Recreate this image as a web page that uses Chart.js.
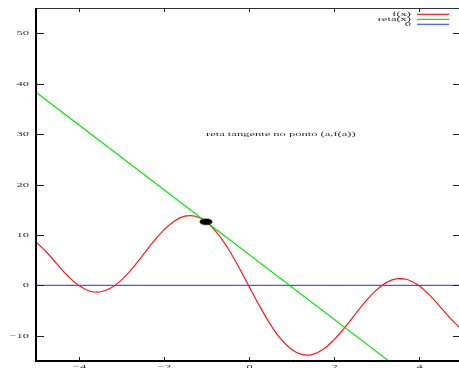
<!DOCTYPE html>
<html>
<head>
<meta charset="utf-8">
<script src="https://cdn.jsdelivr.net/npm/chart.js@4.4.1/dist/chart.umd.min.js"></script>
<style>
html,body{margin:0;padding:0;background:#fff;overflow:hidden;width:459px;height:368px;}
canvas{display:block;}
</style>
</head>
<body>
<canvas id="c" width="470" height="385"></canvas>
<script>
// ---- data ----
const xValues = [-5,-4.75,-4.5,-4.25,-4,-3.75,-3.5,-3.25,-3,-2.75,-2.5,-2.25,-2,-1.75,-1.5,-1.25,-1,-0.75,-0.5,-0.25,0,
  0.25,0.5,0.75,1,1.25,1.5,1.75,2,2.25,2.5,2.75,3,3.25,3.5,3.75,4,4.25,4.5,4.75,5];
const fValues = [8.63,6.56,4.16,1.85,0,-1.11,-1.32,-0.59,0.99,3.22,5.84,8.51,10.91,12.73,13.72,13.70,12.62,10.52,7.55,3.94,0,
  -3.94,-7.55,-10.52,-12.62,-13.70,-13.72,-12.73,-10.91,-8.51,-5.84,-3.22,-0.99,0.59,1.32,1.11,0,-1.85,-4.16,-6.56,-8.63];
const retaX = [-5, 5];
const retaY = [38.3, -25.9];
const zeroX = [-5, 5];
const zeroY = [0, 0];
const pointAX = [-1];
const pointAY = [12.62];
const seriesLabels = ['f(x)', 'reta(x)', '0'];
const annotationText = 'reta tangente no ponto (a,f(a))';
const annotationPos = [-1, 30];
const xTicks = [-4, -2, 0, 2, 4];
const xTickLabels = ['\u22124', '\u22122', '0', '2', '4'];
const yTicks = [-10, 0, 10, 20, 30, 40, 50];
const yTickLabels = ['\u221210', '0', '10', '20', '30', '40', '50'];

const zip = (xs, ys) => xs.map((x, i) => ({x: x, y: ys[i]}));

// ellipse marker for the tangent point
const dot = document.createElement('canvas');
dot.width = 14; dot.height = 8;
(function(){ const g = dot.getContext('2d'); g.fillStyle = '#000'; g.beginPath(); g.ellipse(7, 4, 6.5, 3.3, 0, 0, Math.PI*2); g.fill(); })();

const FONT = '12.5px "Liberation Serif", "Times New Roman", serif';
const SQ = 0.5;
function sText(ctx, str, x, y, align, base) {
  ctx.save();
  ctx.translate(x, y);
  ctx.scale(1, SQ);
  ctx.font = FONT;
  ctx.fillStyle = '#2a2a2a';
  ctx.textAlign = align;
  ctx.textBaseline = base || 'middle';
  ctx.fillText(str, 0, 0);
  ctx.restore();
}

const decor = {
  id: 'decor',
  afterDatasetsDraw(chart) {
    const ctx = chart.ctx, a = chart.chartArea;
    const xs = chart.scales.x, ys = chart.scales.y;
    ctx.save();
    // frame
    ctx.strokeStyle = '#333'; ctx.lineWidth = 1;
    ctx.beginPath(); ctx.moveTo(a.left, a.top + 0.5); ctx.lineTo(a.right, a.top + 0.5); ctx.stroke();
    ctx.beginPath(); ctx.moveTo(a.right - 0.5, a.top); ctx.lineTo(a.right - 0.5, a.bottom); ctx.stroke();
    ctx.strokeStyle = '#000'; ctx.lineWidth = 2;
    ctx.beginPath(); ctx.moveTo(a.left, a.top); ctx.lineTo(a.left, a.bottom + 1); ctx.stroke();
    ctx.beginPath(); ctx.moveTo(a.left - 1, a.bottom); ctx.lineTo(a.right, a.bottom); ctx.stroke();
    // ticks
    ctx.strokeStyle = '#222'; ctx.lineWidth = 1;
    yTicks.forEach((v, i) => {
      const py = Math.round(ys.getPixelForValue(v)) + 0.5;
      ctx.beginPath(); ctx.moveTo(a.left, py); ctx.lineTo(a.left + 8, py); ctx.stroke();
      ctx.beginPath(); ctx.moveTo(a.right, py); ctx.lineTo(a.right - 8, py); ctx.stroke();
      sText(ctx, yTickLabels[i], a.left - 7, py, 'right');
    });
    xTicks.forEach((v, i) => {
      const px = Math.round(xs.getPixelForValue(v)) + 0.5;
      ctx.beginPath(); ctx.moveTo(px, a.bottom); ctx.lineTo(px, a.bottom - 4); ctx.stroke();
      ctx.beginPath(); ctx.moveTo(px, a.top); ctx.lineTo(px, a.top + 4); ctx.stroke();
      sText(ctx, xTickLabels[i], px, a.bottom + 6.5, 'center');
    });
    // legend
    const rows = [14.3, 19.3, 24.3];
    [0, 1, 2].forEach(i => {
      const ds = chart.data.datasets[i];
      sText(ctx, ds.label, 411, rows[i], 'right');
      ctx.strokeStyle = ds.borderColor; ctx.lineWidth = 1.2;
      ctx.beginPath(); ctx.moveTo(417, rows[i]); ctx.lineTo(449, rows[i]); ctx.stroke();
    });
    // annotation
    sText(ctx, annotationText, xs.getPixelForValue(annotationPos[0]), ys.getPixelForValue(annotationPos[1]), 'left');
    ctx.restore();
  }
};

new Chart(document.getElementById('c'), {
  type: 'line',
  data: {
    datasets: [
      {label: seriesLabels[0], data: zip(xValues, fValues), borderColor: '#ff1a1a', borderWidth: 1.2, pointRadius: 0, tension: 0.4, fill: false, order: 2},
      {label: seriesLabels[1], data: zip(retaX, retaY), borderColor: '#00e600', borderWidth: 1.1, pointRadius: 0, tension: 0, fill: false, order: 1},
      {label: seriesLabels[2], data: zip(zeroX, zeroY), borderColor: '#5050ff', borderWidth: 1.1, pointRadius: 0, tension: 0, fill: false, order: 3},
      {label: 'a', data: zip(pointAX, pointAY), showLine: false, pointStyle: dot, pointRadius: 6, borderWidth: 0, order: 0}
    ]
  },
  options: {
    responsive: false,
    devicePixelRatio: 1,
    animation: false,
    events: [],
    layout: {padding: {left: 36, top: 8, right: 9, bottom: 24}},
    plugins: {legend: {display: false}, tooltip: {enabled: false}},
    scales: {
      x: {type: 'linear', min: -5, max: 5, display: false,
          afterBuildTicks: s => { s.ticks = xTicks.map(v => ({value: v})); }},
      y: {type: 'linear', min: -15, max: 55, display: false,
          afterBuildTicks: s => { s.ticks = yTicks.map(v => ({value: v})); }}
    }
  },
  plugins: [decor]
});
</script>
</body>
</html>
